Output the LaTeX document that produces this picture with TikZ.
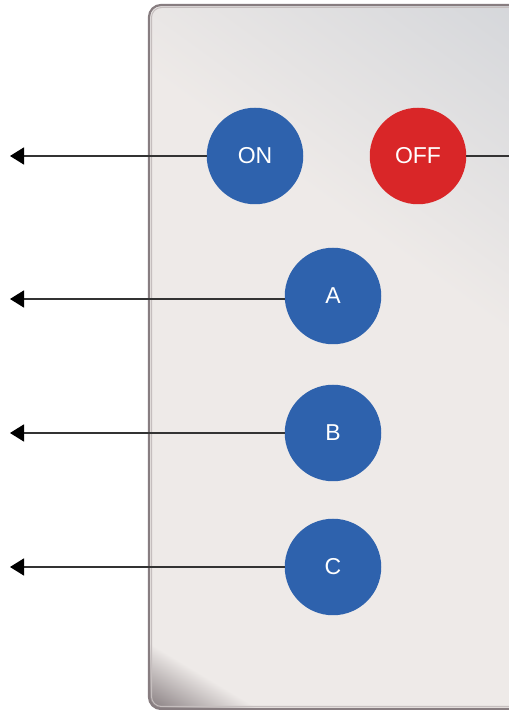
\documentclass[tikz,border=0pt]{standalone}
\usepackage{fontspec}
\setmainfont{Liberation Sans}
\usetikzlibrary{arrows.meta}
\definecolor{btnblue}{HTML}{2E62AD}
\definecolor{btnred}{HTML}{D92628}
\definecolor{wirecol}{HTML}{333333}
\definecolor{panelbase}{HTML}{EEEAE8}
\definecolor{panelgray}{HTML}{D4D6DA}
\definecolor{paneldark}{HTML}{7A7073}
\definecolor{paneledge}{HTML}{877D80}
\begin{document}
\begin{tikzpicture}[x=1pt,y=1pt,
  btn/.style={circle, minimum size=96.5pt, inner sep=0pt, text=white,
    font=\fontsize{23}{23}\selectfont},
  lead/.style={draw=wirecol, line width=1.6pt},
  leadarrow/.style={lead, -{Triangle[length=14pt,width=17pt,color=black]}}]
\useasboundingbox (0,0) rectangle (509,710);
\fill[white] (0,0) rectangle (509,710);
% panel
\begin{scope}
  \clip[rounded corners=12pt] (149,1) rectangle (540,705);
  \fill[panelbase] (140,0) rectangle (540,710);
  \begin{scope}[transform canvas={shift={(150pt,648pt)}, rotate=-36}]
    \shade[bottom color=panelbase, top color=panelgray] (-300,-10) rectangle (800,270);
  \end{scope}
  \begin{scope}[transform canvas={shift={(150pt,62pt)}, rotate=-31}]
    \shade[top color=panelbase, bottom color=paneldark] (-300,-58) rectangle (400,4);
  \end{scope}
\end{scope}
\draw[paneledge, line width=2.2pt, rounded corners=12pt] (149,1) rectangle (540,705);
\draw[paneledge!40!panelbase, line width=1pt, rounded corners=10pt] (151.5,3.5) rectangle (537,702.5);
% buttons
\node[btn, fill=btnblue] (on) at (255,554) {ON};
\node[btn, fill=btnred] (off) at (418,554) {OFF};
\node[btn, fill=btnblue] (a) at (333,414) {A};
\node[btn, fill=btnblue] (b) at (333,277) {B};
\node[btn, fill=btnblue] (c) at (333,143) {C};
% free ends
\coordinate (onEnd) at (10,554);
\coordinate (offEnd) at (512,554);
\coordinate (aEnd) at (10,411);
\coordinate (bEnd) at (10,277);
\coordinate (cEnd) at (10,143);
% connectors
\draw[leadarrow] (on.west) -- (onEnd);
\draw[lead] (off.east) -- (offEnd);
\draw[leadarrow] ([yshift=-3pt]a.west) -- (aEnd);
\draw[leadarrow] (b.west) -- (bEnd);
\draw[leadarrow] (c.west) -- (cEnd);
\end{tikzpicture}
\end{document}
